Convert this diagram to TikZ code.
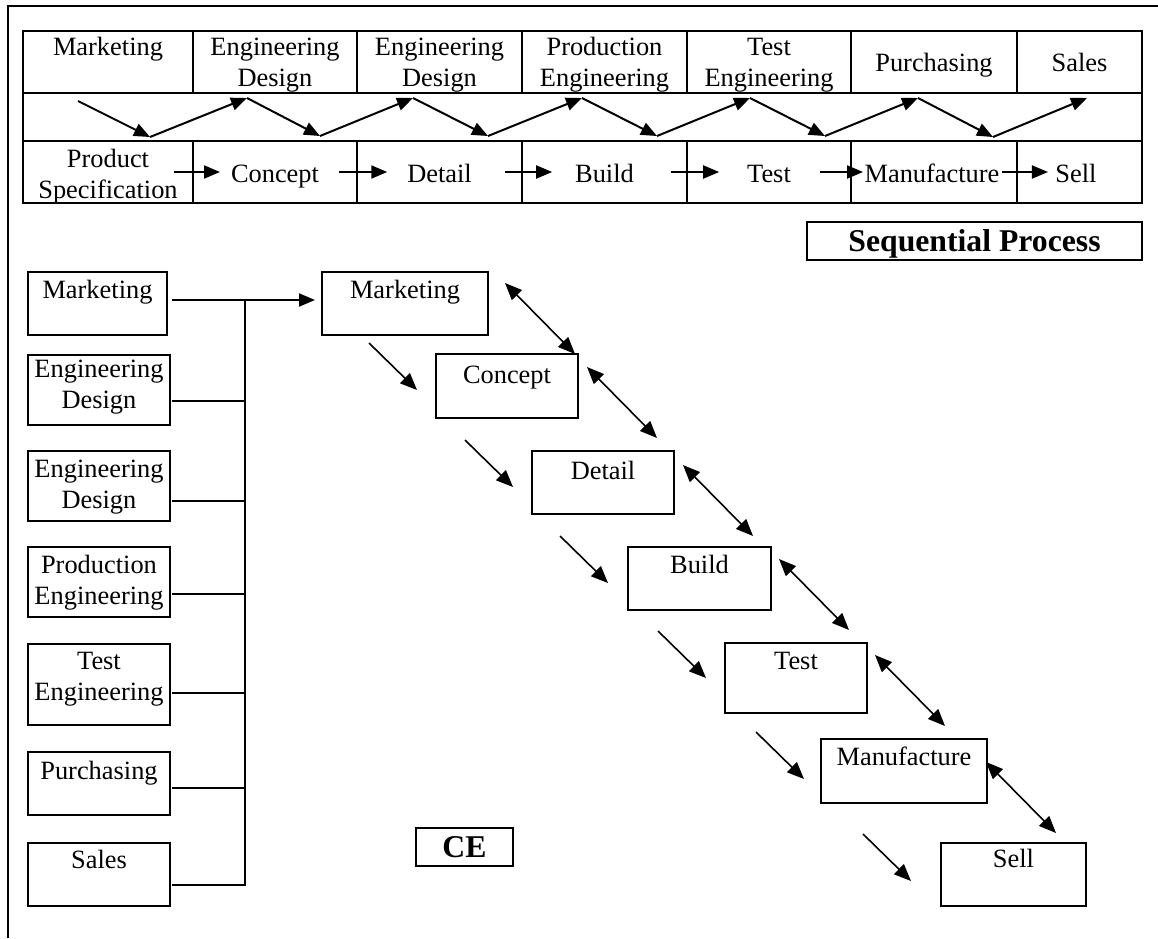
\documentclass[tikz,border=0pt]{standalone}
\usepackage{fontspec}
\setmainfont{Liberation Serif}
\usetikzlibrary{arrows.meta}
% two centred lines whose baseline is the first line
\newcommand\twoline[2]{\begin{tabular}[t]{@{}c@{}}#1\\#2\end{tabular}}

\begin{document}
\begin{tikzpicture}[x=1pt,y=-1pt,
  every node/.style={inner sep=0pt, outer sep=0pt},
  txt/.style={font=\fontsize{26.4}{30.5}\selectfont, anchor=base},
  cell/.style={draw, line width=2pt, anchor=north west},
  box/.style={draw, line width=2pt, anchor=north west},
  titlebox/.style={draw, line width=2pt, font=\fontsize{31.7}{36}\selectfont\bfseries,
    text height=25pt, text depth=5pt, inner ysep=4pt},
  tip/.style={-{Triangle[length=16pt,width=13pt]}, line width=2pt},
  sarr/.style={-{Triangle[length=17pt,width=14pt]}, line width=1.6pt},
  darr/.style={{Triangle[length=17pt,width=14pt]}-{Triangle[length=17pt,width=14pt]}, line width=1.6pt},
  conn/.style={line width=2pt}
]
\useasboundingbox (0,0) rectangle (1158,938);

% outer frame (top and left edges)
\draw[line width=1.8pt] (8,938) -- (8,6) -- (1158,6);

% ---------- sequential process table ----------
\foreach \i/\a/\b in {1/23/193, 2/193/357, 3/357/522, 4/522/687, 5/687/851, 6/851/1017, 7/1017/1142} {
  \node[cell, minimum width=\b-\a, minimum height=62] (h\i) at (\a,31) {};
  \node[cell, minimum width=\b-\a, minimum height=62] (s\i) at (\a,141) {};
}
\node[cell, minimum width=1119, minimum height=48] (mid) at (23,93) {};

% departments
\node[txt] (ht1) at (108,55.5)   {Marketing};
\node[txt] (ht2) at (275,55.5)   {\twoline{Engineering}{Design}};
\node[txt] (ht3) at (439.5,55.5) {\twoline{Engineering}{Design}};
\node[txt] (ht4) at (604.5,55.5) {\twoline{Production}{Engineering}};
\node[txt] (ht5) at (769,55.5)   {\twoline{Test}{Engineering}};
\node[txt] (ht6) at (934,71)     {Purchasing};
\node[txt] (ht7) at (1079.5,71)  {Sales};

% stages
\node[txt] (st1) at (108,167.5)  {\twoline{Product}{Specification}};
\node[txt] (st2) at (275,182)    {Concept};
\node[txt] (st3) at (439.5,182)  {Detail};
\node[txt] (st4) at (604.5,182)  {Build};
\node[txt] (st5) at (769,182)    {Test};
\node[txt] (st6) at (932,182)    {Manufacture};
\node[txt] (st7) at (1076,182)   {Sell};

\coordinate (rowc) at (0,172);
\draw[tip] ([xshift=-3.6pt]st1.east |- rowc) -- ([xshift=-11pt]st2.west |- rowc);
\draw[tip] ([xshift=20pt]st2.east |- rowc)   -- ([xshift=-20pt]st3.west |- rowc);
\draw[tip] ([xshift=33pt]st3.east |- rowc)   -- ([xshift=-23pt]st4.west |- rowc);
\draw[tip] ([xshift=37pt]st4.east |- rowc)   -- ([xshift=-28pt]st5.west |- rowc);
\draw[tip] ([xshift=29pt]st5.east |- rowc)   -- ([xshift=-1.5pt]st6.west |- rowc);
\draw[tip] ([xshift=2.5pt]st6.east |- rowc)  -- ([xshift=-7.5pt]st7.west |- rowc);

% hand-over zigzag
\coordinate (zt0) at (78,101);
\coordinate (zt1) at (247,98);  \coordinate (zb1) at (150,137);
\coordinate (zt2) at (413,98);  \coordinate (zb2) at (320,136);
\coordinate (zt3) at (582,98);  \coordinate (zb3) at (488,136);
\coordinate (zt4) at (750,98);  \coordinate (zb4) at (657,136);
\coordinate (zt5) at (918,98);  \coordinate (zb5) at (825,136);
\coordinate (zt6) at (1087,98); \coordinate (zb6) at (993,137);
\foreach \i/\j in {0/1,1/2,2/3,3/4,4/5,5/6} {
  \draw[tip] (zt\i) -- (zb\j);
  \draw[tip] (zb\j) -- (zt\j);
}

\node[titlebox, minimum width=335pt, minimum height=38pt] (seq) at (974.5,241) {Sequential Process};

% ---------- concurrent engineering ----------
\node[box, minimum width=139, minimum height=63] (lmk) at (28,272) {};
\node[box, minimum width=142, minimum height=70] (led1) at (28,355) {};
\node[box, minimum width=142, minimum height=70] (led2) at (28,451) {};
\node[box, minimum width=142, minimum height=70] (lpe) at (28,547) {};
\node[box, minimum width=142, minimum height=81] (lte) at (28,644) {};
\node[box, minimum width=142, minimum height=63] (lpu) at (28,752) {};
\node[box, minimum width=142, minimum height=63] (lsa) at (28,843) {};

\node[txt] (lmkt)  at (97.5,298) {Marketing};
\node[txt] (led1t) at (99,377.5) {\twoline{Engineering}{Design}};
\node[txt] (led2t) at (99,477.5) {\twoline{Engineering}{Design}};
\node[txt] (lpet)  at (99,573.5) {\twoline{Production}{Engineering}};
\node[txt] (ltet)  at (99,669.5) {\twoline{Test}{Engineering}};
\node[txt] (lput)  at (99,779.5) {Purchasing};
\node[txt] (lsat)  at (99,868)   {Sales};

\node[box, minimum width=166, minimum height=63] (cmk) at (322,272) {};
\node[box, minimum width=142, minimum height=64] (cco) at (436,354) {};
\node[box, minimum width=142, minimum height=63] (cde) at (532,451) {};
\node[box, minimum width=143, minimum height=63] (cbu) at (628,547) {};
\node[box, minimum width=142, minimum height=70] (cte) at (725,643) {};
\node[box, minimum width=166, minimum height=64] (cma) at (821,739) {};
\node[box, minimum width=145, minimum height=63] (cse) at (941,843) {};

\node[txt] (cmkt) at (405,298)      {Marketing};
\node[txt] (ccot) at (507,383.5)    {Concept};
\node[txt] (cdet) at (603,479.5)    {Detail};
\node[txt] (cbut) at (699.5,573.5)  {Build};
\node[txt] (ctet) at (796,669.5)    {Test};
\node[txt] (cmat) at (904,765.5)    {Manufacture};
\node[txt] (cset) at (1013.5,867.5) {Sell};

% collector bus into the team
\coordinate (bus) at (245,300);
\path ([shift={(5,28)}]lmk.north east)  coordinate (j0);
\path ([shift={(2,46)}]led1.north east) coordinate (j1);
\path ([shift={(2,50)}]led2.north east) coordinate (j2);
\path ([shift={(2,47)}]lpe.north east)  coordinate (j3);
\path ([shift={(2,49)}]lte.north east)  coordinate (j4);
\path ([shift={(2,36)}]lpu.north east)  coordinate (j5);
\path ([shift={(2,42)}]lsa.north east)  coordinate (j6);
\draw[tip, shorten >=7pt] (j0) -- (j0 -| cmk.west);
\foreach \i in {1,...,5} \draw[conn] (j\i) -- (j\i -| bus);
\draw[conn] (j6) -- (j6 -| bus) -- (j0 -| bus);

% cascade of stages
\foreach \n/\dx/\dy in {cco/-19/36, cde/-19/36, cbu/-20/36, cte/-19/35, cma/-17/40, cse/-30/38}
  \draw[sarr] ([shift={(\dx-48,\dy-47)}]\n.north west) -- ([shift={(\dx,\dy)}]\n.north west);
\foreach \n/\dx/\dy in {cmk/17/11, cco/9/13, cde/9/14, cbu/8/12, cte/8/12, cma/-1/23}
  \draw[darr] ([shift={(\dx,\dy)}]\n.north east) -- ([shift={(\dx+70,\dy+71)}]\n.north east);

\node[titlebox, minimum width=97pt, minimum height=38pt] (ce) at (464.5,847) {CE};

\end{tikzpicture}
\end{document}
